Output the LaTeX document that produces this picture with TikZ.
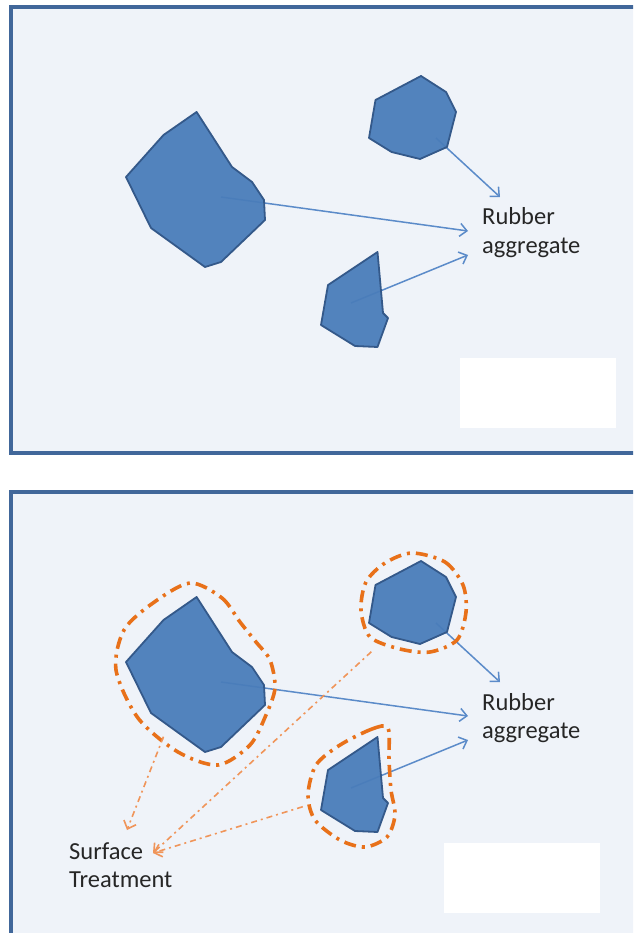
\documentclass[tikz,border=0pt]{standalone}
\usepackage{fontspec}
\setmainfont{Carlito}
\usetikzlibrary{arrows.meta}
\definecolor{panelfill}{HTML}{EFF3F9}
\definecolor{panelframe}{HTML}{41679A}
\definecolor{grain}{HTML}{4A7DBA}
\definecolor{grainedge}{HTML}{34598A}
\definecolor{link}{HTML}{5B8BC9}
\definecolor{coat}{HTML}{E8711A}
\definecolor{coatlink}{HTML}{F0955A}
\definecolor{labeltext}{HTML}{262626}
\tikzset{
  panel/.style={fill=panelfill, draw=panelframe, line width=4pt},
  grainshape/.style={fill=grain, draw=grainedge, line width=1.8pt, line join=round, fill opacity=0.95},
  feed/.style={draw=link, line width=1.5pt, -{Straight Barb[length=7pt,width=13pt,line width=1.5pt]}},
  coating/.style={draw=coat, line width=3.6pt, dash pattern=on 12pt off 6pt on 3pt off 6pt},
  coatfeed/.style={draw=coatlink, line width=1.6pt, dash pattern=on 6pt off 4pt on 2pt off 4pt,
    -{Straight Barb[length=7pt,width=13pt,line width=1.6pt]}},
  notetext/.style={font=\fontsize{24.5}{28.5}\selectfont, text=labeltext, align=left, inner sep=0pt},
  blank/.style={fill=white, draw=none},
}
\begin{document}
\begin{tikzpicture}[x=1pt,y=-1pt]
\useasboundingbox (0,0) rectangle (633,933);
\clip (0,0) rectangle (633,933);
\fill[white] (0,0) rectangle (633,933);

% the two panels
\draw[panel] (10.8,7) rectangle (660,452.5);
\draw[panel] (10.8,492) rectangle (660,960);

% same grains, arrows and label in both panels
\foreach \dy/\tg/\bx in {0/t/460, 485/b/444} {
  \begin{scope}[shift={(0,\dy)}]
    \coordinate (bigsrc-\tg) at (221,197);
    \coordinate (bigend-\tg) at (468,231);
    \coordinate (hexsrc-\tg) at (436,138);
    \coordinate (hexend-\tg) at (500,197);
    \coordinate (smlsrc-\tg) at (351,303);
    \coordinate (smlend-\tg) at (468,255);
    \draw[feed] (bigsrc-\tg) -- (bigend-\tg);
    \draw[feed] (hexsrc-\tg) -- (hexend-\tg);
    \draw[feed] (smlsrc-\tg) -- (smlend-\tg);
    \draw[grainshape] (126,177) -- (163.5,135) -- (196.6,112) -- (232,167) -- (252,182)
      -- (264,200) -- (265,220) -- (221,262) -- (205,267) -- (151,228) -- cycle;
    \draw[grainshape] (375.5,100) -- (421,76) -- (446,92) -- (456,112) -- (447,147)
      -- (420,159) -- (391.6,152) -- (369,138) -- cycle;
    \draw[grainshape] (328,285) -- (377.5,252) -- (383,313) -- (388,318) -- (377.5,347)
      -- (355,346) -- (321,325) -- cycle;
    \fill[blank] (\bx,358) rectangle ++(156,70);
    \node[notetext, anchor=base west] (rubber-\tg) at (482,253.5) {Rubber\\aggregate};
  \end{scope}
}

% surface coatings around the grains
\draw[coating] plot[smooth cycle] coordinates {(190,583) (222,598) (240,622) (256,642) (270,660)
  (275,688) (266,715) (250,745) (218,765) (178,752) (138,718) (116,670) (124,630) (153,603)};
\draw[coating] plot[smooth cycle] coordinates {(412,553) (445,562) (463,585) (466,612) (457,640)
  (430,652) (400,649) (370,637) (361,610) (366,582) (385,563)};
\draw[coating] plot[smooth cycle] coordinates {(388,728) (372,729) (340,745) (316,765) (308,795)
  (315,820) (340,840) (365,847) (387,837) (395,815) (391,790) (389,760)};

\node[notetext, anchor=base west] (surface) at (69,887.5) {Surface\\Treatment};
\coordinate (bigcoat) at (163.5,736.7);
\coordinate (hexcoat) at (371.4,651.7);
\coordinate (smlcoat) at (302.8,806.7);
\coordinate (stleft) at (127,830);
\coordinate (stright) at (153,853);
\draw[coatfeed] (bigcoat) -- (stleft);
\draw[coatfeed] (hexcoat) -- (stright);
\draw[coatfeed] (smlcoat) -- (stright);
\end{tikzpicture}
\end{document}
